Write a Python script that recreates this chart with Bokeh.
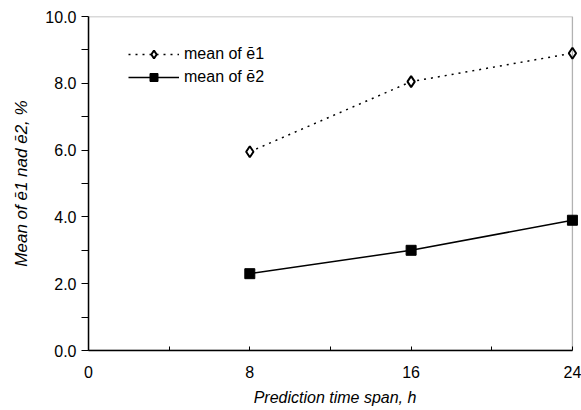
from bokeh.plotting import figure
from bokeh.models import Range1d, Legend, LegendItem, FixedTicker, NumeralTickFormatter, BoxAnnotation
from bokeh.embed import file_html
from bokeh.resources import INLINE

hours = [8, 16, 24]
mean_e1 = [5.95, 8.05, 8.9]
mean_e2 = [2.3, 3.0, 3.9]
x_ticks = [0, 8, 16, 24]
x_minor = [4, 12, 20]
y_ticks = [0, 2, 4, 6, 8, 10]
y_minor = [1, 3, 5, 7, 9]
FONT = "Liberation Sans"

x_lo, x_hi = x_ticks[0], x_ticks[-1]
y_lo, y_hi = y_ticks[0], y_ticks[-1]

# frame extends a little past x=24 so the end markers are not clipped
p = figure(width=581, height=410, output_backend="svg", toolbar_location=None,
           x_range=Range1d(x_lo, 24.45), y_range=Range1d(y_lo, y_hi),
           min_border_left=88, min_border_right=0, min_border_top=16, min_border_bottom=60)
p.grid.visible = False
p.outline_line_color = None

# plot box drawn at data bounds
box = BoxAnnotation(left=x_lo, right=x_hi, bottom=y_lo, top=y_hi,
                    fill_alpha=0, line_color="black", line_width=1.3)
p.add_layout(box)

r1 = p.line(hours, mean_e1, line_color="black", line_width=1.5, line_dash="2 5")
m1 = p.scatter(hours, mean_e1, marker="diamond", size=11, fill_color="white",
               line_color="black", line_width=2)
r2 = p.line(hours, mean_e2, line_color="black", line_width=1.5)
m2 = p.scatter(hours, mean_e2, marker="square", size=10, fill_color="black",
               line_color="black")

legend = Legend(items=[LegendItem(label="mean of ē1", renderers=[r1, m1]),
                       LegendItem(label="mean of ē2", renderers=[r2, m2])],
                location=(40, 263), border_line_color=None, background_fill_alpha=0,
                glyph_width=51, glyph_height=20, label_text_font=FONT,
                label_text_color="black",
                label_text_font_size="16px", spacing=3, padding=4, label_standoff=5)
p.add_layout(legend, "center")

p.xaxis.ticker = FixedTicker(ticks=x_ticks, minor_ticks=x_minor)
p.yaxis.ticker = FixedTicker(ticks=y_ticks, minor_ticks=y_minor)
p.yaxis.formatter = NumeralTickFormatter(format="0.0")
p.xaxis.bounds = (x_lo, x_hi)

for ax in (p.xaxis, p.yaxis):
    ax.axis_line_width = 1.5
    ax.axis_line_color = "black"
    ax.major_tick_line_color = "black"
    ax.minor_tick_line_color = "black"
    ax.major_label_text_color = "black"
    ax.axis_label_text_color = "black"
    ax.major_label_text_font = FONT
    ax.major_label_text_font_size = "16px"
    ax.axis_label_text_font = FONT
    ax.axis_label_text_font_size = "16px"
    ax.axis_label_text_font_style = "italic"

p.xaxis.axis_label = "Prediction time span, h"
p.yaxis.axis_label = "Mean of ē1 nad ē2, %"
p.yaxis.axis_label_text_font_size = "17px"
p.xaxis.major_tick_in = 4
p.xaxis.major_tick_out = 0
p.xaxis.minor_tick_in = 4
p.xaxis.minor_tick_out = 0
p.xaxis.major_label_standoff = 15
p.xaxis.axis_label_standoff = 8
p.yaxis.major_tick_in = 0
p.yaxis.major_tick_out = 7
p.yaxis.minor_tick_in = 0
p.yaxis.minor_tick_out = 7
p.yaxis.major_label_standoff = 5
p.yaxis.axis_label_standoff = 11

open("out.html", "w").write(file_html(p, INLINE))
